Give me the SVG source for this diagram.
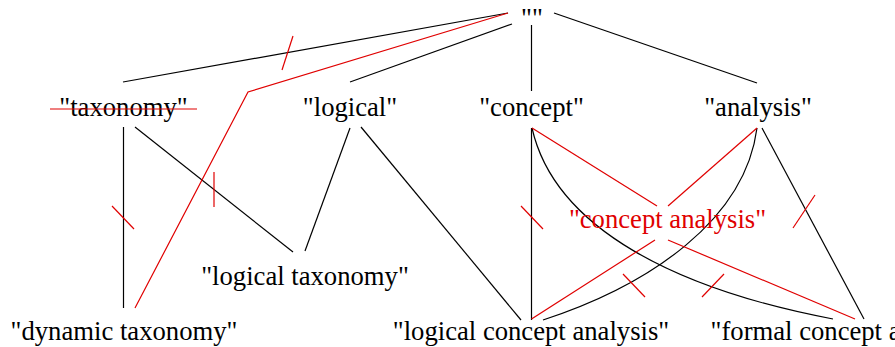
<svg xmlns="http://www.w3.org/2000/svg" width="895" height="347" viewBox="0 0 895 347">
<style>
text{font-family:"Liberation Serif","Times New Roman",serif;font-size:26.67px;text-anchor:middle;fill:#000}
.red{fill:#e00000}
.e{fill:none;stroke:#000;stroke-width:1.2}
.r{fill:none;stroke:#e00000;stroke-width:1.2}
</style>
<rect width="895" height="347" fill="#fff"/>
<g id="connectors">
<path class="e" d="M508,13 L123,82"/>
<path class="e" d="M512,24 L350,82"/>
<path class="e" d="M531.5,25 L531.5,91"/>
<path class="e" d="M554,13 L757,83"/>
<path class="e" d="M123.5,127 L123.5,308"/>
<path class="e" d="M135,127 L293,252"/>
<path class="e" d="M350,128 L305,251"/>
<path class="e" d="M361,127 L521,320"/>
<path class="e" d="M531.5,128 L531.5,320"/>
<path class="e" d="M757,128 C745,220 650,285 543,320"/>
<path class="e" d="M532,128 C555,230 680,290 833,319"/>
<path class="e" d="M762,128 L864,319"/>
<path class="r" d="M508,13 L248,92 L135,308"/>
<path class="r" d="M532,128 L657,206"/>
<path class="r" d="M757,128 L668,206"/>
<path class="r" d="M655,240 L531.5,319"/>
<path class="r" d="M668,240 L855,319"/>
<path class="r" d="M293,36 L282,70"/>
<path class="r" d="M112,206 L134,229"/>
<path class="r" d="M214,172 L214,207"/>
<path class="r" d="M521,206 L543,229"/>
<path class="r" d="M815,195 L793,228"/>
<path class="r" d="M623,274 L645,297"/>
<path class="r" d="M724,274 L702,297"/>
</g>
<g id="n-root"><text x="532" y="27">""</text></g>
<g id="n-taxonomy"><text x="123.5" y="116">"taxonomy"</text><path class="r" d="M50,109 L197,109"/></g>
<g id="n-logical"><text x="350" y="116">"logical"</text></g>
<g id="n-concept"><text x="531.5" y="116">"concept"</text></g>
<g id="n-analysis"><text x="758" y="116">"analysis"</text></g>
<g id="n-concept-analysis"><text class="red" x="667.5" y="228">"concept analysis"</text></g>
<g id="n-logical-taxonomy"><text x="305" y="285">"logical taxonomy"</text></g>
<g id="n-dynamic-taxonomy"><text x="124" y="340">"dynamic taxonomy"</text></g>
<g id="n-logical-concept-analysis"><text x="531" y="340">"logical concept analysis"</text></g>
<g id="n-formal-concept-analysis"><text x="848" y="340">"formal concept analysis"</text></g>
</svg>
